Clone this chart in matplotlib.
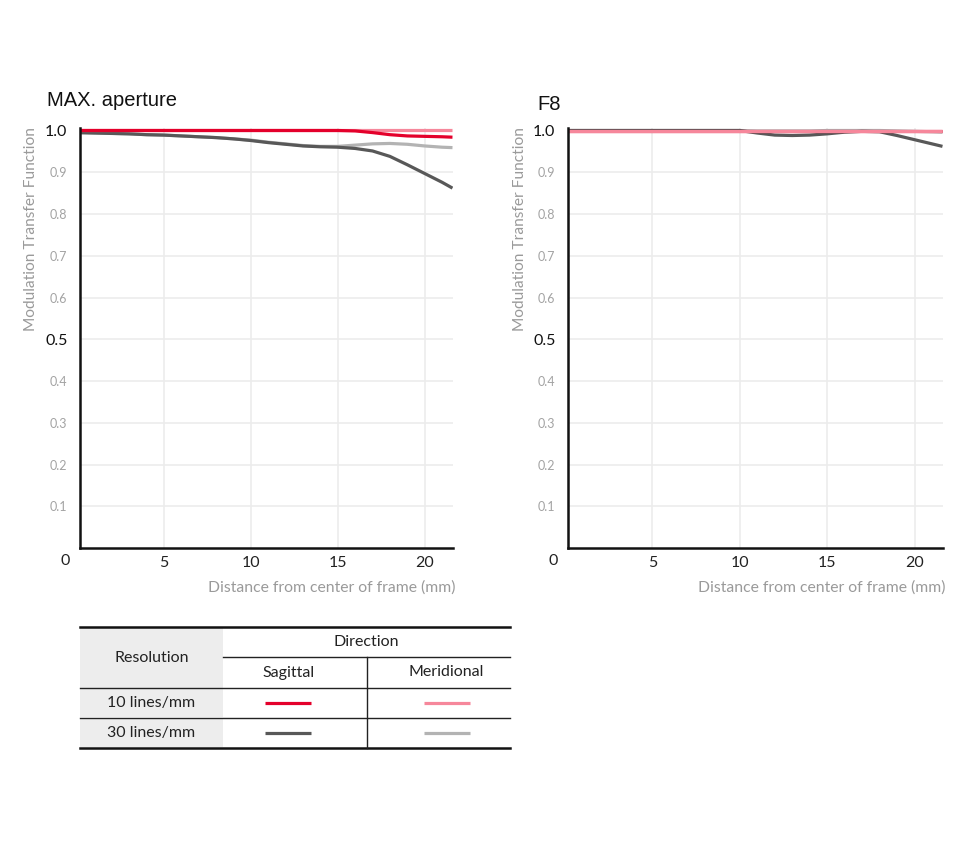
import matplotlib
matplotlib.use("Agg")
import matplotlib.pyplot as plt
import numpy as np

plt.rcParams['font.family'] = ['Lato', 'DejaVu Sans']

# ---- data ----
x_mm = [0, 1, 2, 3, 4, 5, 6, 7, 8, 9, 10, 11, 12, 13, 14, 15, 16, 17, 18, 19, 20, 21, 21.6]

# MAX. aperture
max_s10 = [1.0, 1.0, 1.0, 1.0, 1.0, 1.0, 1.0, 1.0, 1.0, 1.0, 1.0, 1.0, 1.0, 1.0, 1.0, 1.0,
           0.999, 0.995, 0.990, 0.987, 0.986, 0.985, 0.984]
max_m10 = [1.002] * 23
max_s30 = [0.995, 0.994, 0.993, 0.992, 0.990, 0.989, 0.987, 0.985, 0.983, 0.980, 0.976, 0.971,
           0.967, 0.963, 0.961, 0.960, 0.957, 0.951, 0.938, 0.918, 0.897, 0.876, 0.862]
max_m30 = [0.995, 0.994, 0.993, 0.992, 0.990, 0.989, 0.987, 0.985, 0.983, 0.980, 0.977, 0.972,
           0.968, 0.964, 0.962, 0.962, 0.965, 0.968, 0.969, 0.967, 0.963, 0.960, 0.959]

# F8
f8_s10 = [1.0] * 23
f8_m10 = [1.0] * 23
f8_s30 = [1.0, 1.0, 1.0, 1.0, 1.0, 1.0, 1.0, 1.0, 1.0, 1.0, 1.0, 0.994, 0.989, 0.988, 0.989,
          0.992, 0.996, 0.998, 0.997, 0.988, 0.978, 0.968, 0.962]
f8_m30 = [1.0, 1.0, 1.0, 1.0, 1.0, 1.0, 1.0, 1.0, 1.0, 1.0, 1.0, 0.999, 0.999, 0.999, 0.999,
          1.0, 1.0, 1.0, 1.0, 0.999, 0.998, 0.997, 0.996]

panel_titles = ["MAX. aperture", "F8"]
x_ticks = [5, 10, 15, 20]
y_minor_ticks = [0.1, 0.2, 0.3, 0.4, 0.6, 0.7, 0.8, 0.9]
y_major_ticks = [0.5, 1.0]
legend_rows = ["10 lines/mm", "30 lines/mm"]
legend_cols = ["Sagittal", "Meridional"]

C_S10 = "#e4002b"
C_M10 = "#f6879b"
C_S30 = "#585858"
C_M30 = "#b3b3b3"
GRID = "#ececec"
GREY_TXT = "#9a9a9a"

W, H = 980, 857
fig = plt.figure(figsize=(W / 100, H / 100), dpi=100)

def fx(px):
    return px / W

def fy(py):
    return 1 - py / H

panels = [
    dict(left=80, right=453, title_x=47, title_y=100, ylab_x=31, zero_x=65,
         data=(max_s10, max_m10, max_s30, max_m30), pink_top=False),
    dict(left=568, right=943, title_x=537, title_y=104, ylab_x=520, zero_x=553,
         data=(f8_s10, f8_m10, f8_s30, f8_m30), pink_top=True),
]
top_px, bot_px = 128, 548

for p, title in zip(panels, panel_titles):
    ax = fig.add_axes([fx(p['left']), fy(bot_px), fx(p['right'] - p['left']), (bot_px - top_px) / H])
    s10, m10, s30, m30 = p['data']
    ax.set_xlim(0.17, 21.63)
    ax.set_ylim(0, 1.006)
    for xv in x_ticks:
        ax.axvline(xv, color=GRID, lw=1.2, zorder=0)
    for yv in y_minor_ticks + [0.5]:
        ax.axhline(yv, color=GRID, lw=1.2, zorder=0)
    kw = dict(lw=2.3, solid_capstyle='butt', solid_joinstyle='round')
    ax.plot(x_mm, m30, color=C_M30, zorder=2, **kw)
    ax.plot(x_mm, s30, color=C_S30, zorder=3, **kw)
    if p['pink_top']:
        ax.plot(x_mm, s10, color=C_S10, zorder=4, **kw)
        ax.plot(x_mm, m10, color=C_M10, zorder=5, **kw)
    else:
        ax.plot(x_mm, m10, color=C_M10, zorder=4, **kw)
        ax.plot(x_mm, s10, color=C_S10, zorder=5, **kw)
    for side in ['top', 'right']:
        ax.spines[side].set_visible(False)
    for side in ['left', 'bottom']:
        ax.spines[side].set_linewidth(1.8)
        ax.spines[side].set_color('#111111')
        ax.spines[side].set_zorder(6)
    ax.set_xticks(x_ticks)
    ax.set_xticklabels([str(v) for v in x_ticks], fontsize=11.5, color='#222222')
    ax.set_yticks(y_minor_ticks + y_major_ticks)
    ax.set_yticklabels([f"{v:.1f}" for v in y_minor_ticks + y_major_ticks])
    for t, v in zip(ax.get_yticklabels(), y_minor_ticks + y_major_ticks):
        if v in y_major_ticks:
            t.set_fontsize(11.5)
            t.set_color('#111111')
        else:
            t.set_fontsize(9)
            t.set_color('#a3a3a3')
    ax.tick_params(axis='y', length=0, pad=9)
    ax.tick_params(axis='x', length=0, pad=6)
    # zero label
    fig.text(fx(p['zero_x']), fy(561), "0", fontsize=11.5, color='#222222', ha='center', va='center')
    # title
    fig.text(fx(p['title_x']), fy(p['title_y']), title, fontsize=14.5, color='#111111',
             ha='left', va='center', family=['Liberation Sans', 'DejaVu Sans'])
    # y label
    fig.text(fx(p['ylab_x']), fy(127), "Modulation Transfer Function", rotation=90,
             fontsize=11.2, color=GREY_TXT, ha='center', va='top')
    # x label
    fig.text(fx(p['right'] + 2), fy(588), "Distance from center of frame (mm)",
             fontsize=11.3, color=GREY_TXT, ha='right', va='center')

# ---- legend table ----
tax = fig.add_axes([0, 0, 1, 1])
tax.set_xlim(0, W)
tax.set_ylim(H, 0)
tax.axis('off')

tx0, tx1, txm, txv = 80, 510, 223, 367
y_top, y_dir, y_hdr, y_r1, y_bot = 627, 657, 688, 718, 748

tax.add_patch(plt.Rectangle((tx0, y_top), txm - tx0, y_hdr - y_top, color='#ededed', lw=0))
tax.add_patch(plt.Rectangle((tx0, y_hdr + 1), txm - tx0, y_r1 - y_hdr - 2, color='#ededed', lw=0))
tax.add_patch(plt.Rectangle((tx0, y_r1 + 1), txm - tx0, y_bot - y_r1 - 2, color='#ededed', lw=0))

tax.plot([tx0, tx1], [y_top, y_top], color='#111111', lw=1.8)
tax.plot([txm, tx1], [y_dir, y_dir], color='#222222', lw=1.0)
tax.plot([tx0, tx1], [y_hdr, y_hdr], color='#222222', lw=1.0)
tax.plot([tx0, tx1], [y_r1, y_r1], color='#222222', lw=1.0)
tax.plot([tx0, tx1], [y_bot, y_bot], color='#111111', lw=1.8)
tax.plot([txv, txv], [y_dir, y_bot], color='#222222', lw=1.0)

fs = 11.5
tcol = '#222222'
tax.text((tx0 + txm) / 2, (y_top + y_hdr) / 2, "Resolution", fontsize=fs, color=tcol, ha='center', va='center')
tax.text((txm + tx1) / 2, (y_top + y_dir) / 2, "Direction", fontsize=fs, color=tcol, ha='center', va='center')
tax.text((txm + txv) / 2 - 6, (y_dir + y_hdr) / 2, legend_cols[0], fontsize=fs, color=tcol, ha='center', va='center')
tax.text((txv + tx1) / 2 + 8, (y_dir + y_hdr) / 2, legend_cols[1], fontsize=fs, color=tcol, ha='center', va='center')
tax.text((tx0 + txm) / 2, (y_hdr + y_r1) / 2, legend_rows[0], fontsize=fs, color=tcol, ha='center', va='center')
tax.text((tx0 + txm) / 2, (y_r1 + y_bot) / 2, legend_rows[1], fontsize=fs, color=tcol, ha='center', va='center')

swatch = [
    ((265, 311), (y_hdr + y_r1) / 2, C_S10),
    ((424, 470), (y_hdr + y_r1) / 2, C_M10),
    ((265, 311), (y_r1 + y_bot) / 2, C_S30),
    ((424, 470), (y_r1 + y_bot) / 2, C_M30),
]
for (a, b), yy, c in swatch:
    tax.plot([a, b], [yy, yy], color=c, lw=2.3, solid_capstyle='butt')

fig.savefig("out.png", dpi=100, facecolor='white')
